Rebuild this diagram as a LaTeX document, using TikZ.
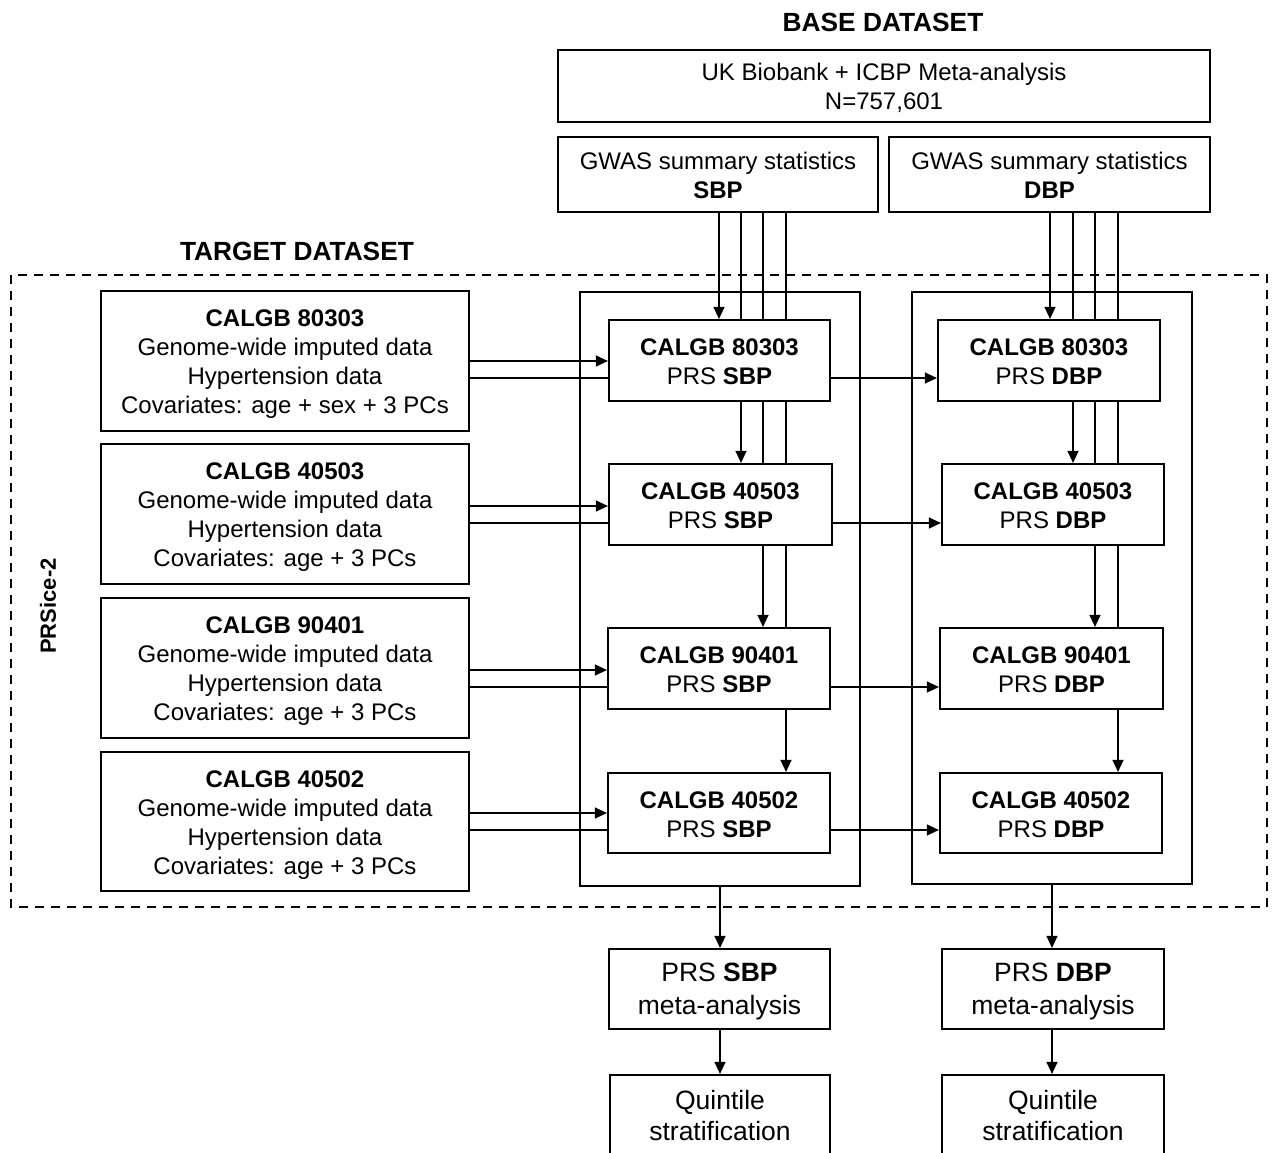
\documentclass[tikz,border=0pt]{standalone}
\usepackage{fontspec}
\setmainfont{Liberation Sans}
\usetikzlibrary{arrows.meta,backgrounds}
\newcommand{\topstrut}[1]{\rule{0pt}{#1}}
\begin{document}
\begin{tikzpicture}[x=1pt,y=-1pt,
  every node/.style={font=\fontsize{24}{29}\selectfont, inner sep=0pt, align=center},
  box/.style={draw, line width=2.2pt, fill=white, rectangle},
  frame/.style={draw, line width=2.2pt, rectangle},
  big/.style={font=\fontsize{26.5}{33}\selectfont},
  conn/.style={line width=1.3pt},
  arr/.style={conn, -{Triangle[length=12pt,width=11pt]}},
  ttl/.style={font=\fontsize{26.3}{30}\selectfont\bfseries}]
\clip (0,0) rectangle (1272,1152);

% titles
\node[ttl] (tbase) at (883,22) {BASE DATASET};
\node[ttl] (ttarget) at (297,251) {TARGET DATASET};
\draw[line width=2pt, dash pattern=on 9pt off 7pt] (11,275) rectangle (1267,907);
\node[font=\fontsize{22}{26}\selectfont\bfseries, rotate=90] (prsice) at (48,606) {PRSice-2};

% base dataset
\node[box, minimum width=652pt, minimum height=72pt] (ukb) at (884,86) {\topstrut{22pt}UK Biobank + ICBP Meta-analysis\\N=757,601};
\node[box, minimum width=320pt, minimum height=75pt] (gs) at (718,174.5) {\topstrut{19pt}GWAS summary statistics\\\textbf{SBP}};
\node[box, minimum width=321pt, minimum height=75pt] (gd) at (1049.5,174.5) {\topstrut{19pt}GWAS summary statistics\\\textbf{DBP}};

% target data boxes
\node[box, minimum width=368pt, minimum height=140pt] (L1) at (285,361) {\topstrut{23.5pt}\textbf{CALGB 80303}\\Genome-wide imputed data\\Hypertension data\\Covariates: age + sex + 3 PCs};
\node[box, minimum width=368pt, minimum height=140pt] (L2) at (285,514) {\topstrut{23.5pt}\textbf{CALGB 40503}\\Genome-wide imputed data\\Hypertension data\\Covariates: age + 3 PCs};
\node[box, minimum width=368pt, minimum height=140pt] (L3) at (285,668) {\topstrut{23.5pt}\textbf{CALGB 90401}\\Genome-wide imputed data\\Hypertension data\\Covariates: age + 3 PCs};
\node[box, minimum width=368pt, minimum height=139pt] (L4) at (285,821.5) {\topstrut{23.5pt}\textbf{CALGB 40502}\\Genome-wide imputed data\\Hypertension data\\Covariates: age + 3 PCs};

% containers
\node[frame, minimum width=280pt, minimum height=594pt] (csbp) at (720,589) {};
\node[frame, minimum width=280pt, minimum height=592pt] (cdbp) at (1052,588) {};

% PRS boxes
\node[box, minimum width=221pt, minimum height=81pt] (S1) at (719.5,360.5) {\topstrut{19.5pt}\textbf{CALGB 80303}\\PRS \textbf{SBP}};
\node[box, minimum width=223pt, minimum height=81pt] (S2) at (720.5,504.5) {\topstrut{19.5pt}\textbf{CALGB 40503}\\PRS \textbf{SBP}};
\node[box, minimum width=222pt, minimum height=81pt] (S3) at (719,668.5) {\topstrut{19.5pt}\textbf{CALGB 90401}\\PRS \textbf{SBP}};
\node[box, minimum width=222pt, minimum height=80pt] (S4) at (719,813) {\topstrut{19.5pt}\textbf{CALGB 40502}\\PRS \textbf{SBP}};
\node[box, minimum width=222pt, minimum height=81pt] (D1) at (1049,360.5) {\topstrut{19.5pt}\textbf{CALGB 80303}\\PRS \textbf{DBP}};
\node[box, minimum width=222pt, minimum height=81pt] (D2) at (1053,504.5) {\topstrut{19.5pt}\textbf{CALGB 40503}\\PRS \textbf{DBP}};
\node[box, minimum width=223pt, minimum height=81pt] (D3) at (1051.5,668.5) {\topstrut{19.5pt}\textbf{CALGB 90401}\\PRS \textbf{DBP}};
\node[box, minimum width=222pt, minimum height=80pt] (D4) at (1051,813) {\topstrut{19.5pt}\textbf{CALGB 40502}\\PRS \textbf{DBP}};

% results
\node[box, big, minimum width=221pt, minimum height=80pt] (MS) at (719.5,989) {\topstrut{23pt}PRS \textbf{SBP}\\meta-analysis};
\node[box, big, minimum width=222pt, minimum height=80pt] (MD) at (1053,989) {\topstrut{23pt}PRS \textbf{DBP}\\meta-analysis};
\node[box, font=\fontsize{26.5}{31}\selectfont, minimum width=220pt, minimum height=82pt] (QS) at (720,1116) {Quintile\\stratification};
\node[box, font=\fontsize{26.5}{31}\selectfont, minimum width=222pt, minimum height=82pt] (QD) at (1053,1116) {Quintile\\stratification};

% helper coordinates
\coordinate (xs1) at (719,0);
\coordinate (xs2) at (741,0);
\coordinate (xs3) at (763,0);
\coordinate (xs4) at (786,0);
\coordinate (xd1) at (1050,0);
\coordinate (xd2) at (1073,0);
\coordinate (xd3) at (1095,0);
\coordinate (xd4) at (1118,0);
\coordinate (ya1) at (0,361);
\coordinate (yb1) at (0,378);
\coordinate (ya2) at (0,506);
\coordinate (yb2) at (0,523);
\coordinate (ya3) at (0,670);
\coordinate (yb3) at (0,687);
\coordinate (ya4) at (0,813);
\coordinate (yb4) at (0,830);
\coordinate (xm1) at (720,0);
\coordinate (xm2) at (1052,0);

\begin{scope}[on background layer]
  \fill[white] (0,0) rectangle (1272,1152);
  \draw[arr] (gs.south -| xs1) -- (S1.north -| xs1);
  \draw[arr] (gs.south -| xs2) -- (S2.north -| xs2);
  \draw[arr] (gs.south -| xs3) -- (S3.north -| xs3);
  \draw[arr] (gs.south -| xs4) -- (S4.north -| xs4);
  \draw[arr] (gd.south -| xd1) -- (D1.north -| xd1);
  \draw[arr] (gd.south -| xd2) -- (D2.north -| xd2);
  \draw[arr] (gd.south -| xd3) -- (D3.north -| xd3);
  \draw[arr] (gd.south -| xd4) -- (D4.north -| xd4);
  \draw[arr] (L1.east |- ya1) -- (S1.west |- ya1);
  \draw[arr] (L1.east |- yb1) -- (D1.west |- yb1);
  \draw[arr] (L2.east |- ya2) -- (S2.west |- ya2);
  \draw[arr] (L2.east |- yb2) -- (D2.west |- yb2);
  \draw[arr] (L3.east |- ya3) -- (S3.west |- ya3);
  \draw[arr] (L3.east |- yb3) -- (D3.west |- yb3);
  \draw[arr] (L4.east |- ya4) -- (S4.west |- ya4);
  \draw[arr] (L4.east |- yb4) -- (D4.west |- yb4);
  \draw[arr] (csbp.south -| xm1) -- (MS.north -| xm1);
  \draw[arr] (cdbp.south -| xm2) -- (MD.north -| xm2);
  \draw[arr] (MS.south -| xm1) -- (QS.north -| xm1);
  \draw[arr] (MD.south -| xm2) -- (QD.north -| xm2);
\end{scope}
\end{tikzpicture}
\end{document}
